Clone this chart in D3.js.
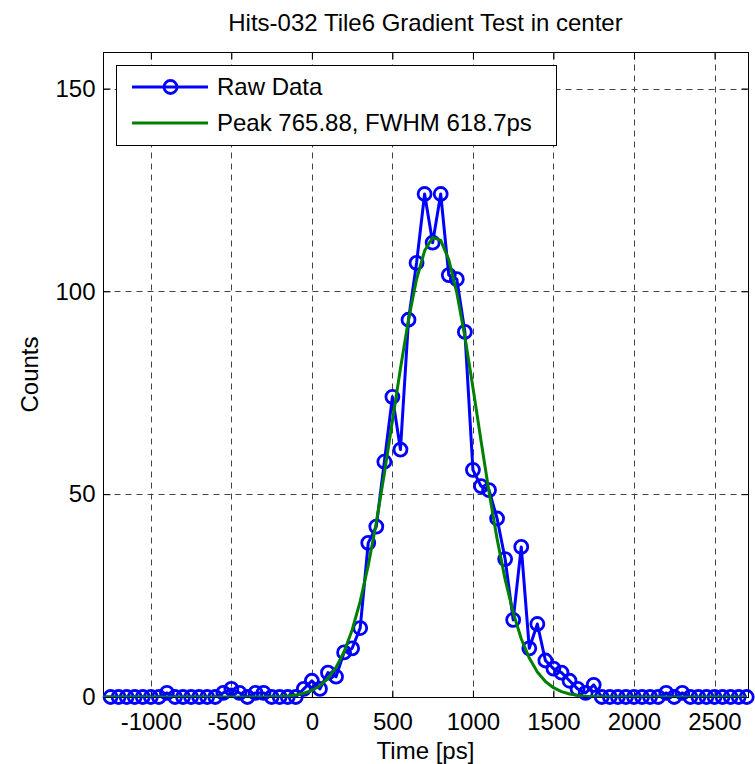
<!DOCTYPE html>
<html>
<head>
<meta charset="utf-8">
<script src="https://cdn.jsdelivr.net/npm/d3@7"></script>
<style>
  html, body { margin: 0; padding: 0; background: #fff; }
  svg { display: block; font-family: "Liberation Sans", Arial, sans-serif; }
</style>
</head>
<body>
<svg id="chart" width="755" height="764"></svg>
<script>
// ---- data ----
const titleText = "Hits-032 Tile6 Gradient Test in center";
const xLabel = "Time [ps]";
const yLabel = "Counts";
const seriesNames = ["Raw Data", "Peak 765.88, FWHM 618.7ps"];

const timePs = [
  -1300, -1250, -1200, -1150, -1100, -1050, -1000, -950, -900, -850,
  -800, -750, -700, -650, -600, -550, -500, -450, -400, -350,
  -300, -250, -200, -150, -100, -50, 0, 50, 100, 150,
  200, 250, 300, 350, 400, 450, 500, 550, 600, 650,
  700, 750, 800, 850, 900, 950, 1000, 1050, 1100, 1150,
  1200, 1250, 1300, 1350, 1400, 1450, 1500, 1550, 1600, 1650,
  1700, 1750, 1800, 1850, 1900, 1950, 2000, 2050, 2100, 2150,
  2200, 2250, 2300, 2350, 2400, 2450, 2500, 2550, 2600, 2650,
  2700
];

const rawCounts = [
  0, 0, 0, 0, 0, 0, 0, 0, 1, 0,
  0, 0, 0, 0, 0, 1, 2, 1, 0, 1,
  1, 0, 0, 0, 0, 2, 4, 2, 6, 5,
  11, 12, 17, 38, 42, 58, 74, 61, 93, 107,
  124, 112, 124, 104, 103, 90, 56, 52, 51, 44,
  34, 19, 37, 12, 18, 9, 7, 6, 4, 2,
  1, 3, 0, 0, 0, 0, 0, 0, 0, 0,
  1, 0, 1, 0, 0, 0, 0, 0, 0, 0,
  0
];

const fitCounts = [
  0, 0, 0, 0, 0, 0, 0, 0, 0, 0,
  0, 0, 0, 0, 0, 0, 0, 0, 0, 0,
  0.03, 0.06, 0.13, 0.26, 0.50, 0.92, 1.62, 2.77, 4.57, 7.27,
  11.16, 16.51, 23.57, 32.43, 43.04, 55.10, 68.02, 80.99, 92.99, 102.98,
  109.99, 113.29, 112.55, 107.83, 99.63, 88.79, 76.31, 63.25, 50.56, 38.98,
  28.99, 20.79, 14.37, 9.59, 6.17, 3.83, 2.29, 1.32, 0.74, 0.40,
  0.20, 0.10, 0.05, 0.02, 0.01, 0, 0, 0, 0, 0,
  0, 0, 0, 0, 0, 0, 0, 0, 0, 0,
  0
];

const xTicks = [-1000, -500, 0, 500, 1000, 1500, 2000, 2500];
const yTicks = [0, 50, 100, 150];
const xDomain = [-1297, 2708];
const yDomain = [0, 159];

// ---- layout ----
const L = 103, R = 748, T = 52, B = 697;
const FS = 24;
const blue = "#0000ff", green = "#008000";

const svg = d3.select("#chart");
const x = d3.scaleLinear().domain(xDomain).range([L, R]);
const y = d3.scaleLinear().domain(yDomain).range([B, T]);

svg.append("defs").append("clipPath").attr("id", "plotclip")
  .append("rect").attr("x", L).attr("y", T).attr("width", R - L).attr("height", B - T);

// grid
const gridStyle = g => {
  g.select(".domain").remove();
  g.selectAll(".tick line").attr("stroke", "#444").attr("stroke-width", 1)
    .attr("stroke-dasharray", "6,5");
  g.selectAll("text").remove();
};
svg.append("g").attr("transform", `translate(0,${B + 0.5})`)
  .call(d3.axisBottom(x).tickValues(xTicks).tickSize(-(B - T)).tickFormat(""))
  .call(gridStyle)
  .selectAll(".tick").attr("transform", d => `translate(${Math.round(x(d)) + 0.5},0)`);
svg.append("g").attr("transform", `translate(${L + 0.5},0)`)
  .call(d3.axisLeft(y).tickValues(yTicks.filter(v => v > 0)).tickSize(-(R - L)).tickFormat(""))
  .call(gridStyle)
  .selectAll(".tick").attr("transform", d => `translate(0,${Math.round(y(d)) + 0.5})`);

// axes with labels
const axStyle = g => {
  g.select(".domain").remove();
  g.selectAll(".tick line").attr("stroke", "#000").attr("stroke-width", 1);
  g.selectAll("text").attr("font-size", FS).attr("fill", "#000")
    .attr("font-family", "Liberation Sans, Arial, sans-serif");
};
const fmt = d => String(d);
svg.append("g").attr("transform", `translate(0,${B + 0.5})`)
  .call(d3.axisBottom(x).tickValues(xTicks).tickSizeInner(-7).tickSizeOuter(0).tickPadding(15).tickFormat(fmt))
  .call(axStyle);
svg.append("g").attr("transform", `translate(0,${T + 0.5})`)
  .call(d3.axisTop(x).tickValues(xTicks).tickSizeInner(-7).tickSizeOuter(0).tickFormat(""))
  .call(axStyle);
svg.append("g").attr("transform", `translate(${L + 0.5},0)`)
  .call(d3.axisLeft(y).tickValues(yTicks).tickSizeInner(-7).tickSizeOuter(0).tickPadding(8).tickFormat(fmt))
  .call(axStyle);
svg.append("g").attr("transform", `translate(${R + 0.5},0)`)
  .call(d3.axisRight(y).tickValues(yTicks).tickSizeInner(-7).tickSizeOuter(0).tickFormat(""))
  .call(axStyle);

// frame
svg.append("rect").attr("x", L + 0.5).attr("y", T + 0.5)
  .attr("width", R - L).attr("height", B - T)
  .attr("fill", "none").attr("stroke", "#000").attr("stroke-width", 1);

// data
const rawPts = timePs.map((t, i) => [t, rawCounts[i]]);
const fitPts = timePs.map((t, i) => [t, fitCounts[i]]);
const line = d3.line().x(d => x(d[0])).y(d => y(d[1]));

const plot = svg.append("g").attr("clip-path", "url(#plotclip)");
plot.append("path").datum(rawPts).attr("d", line)
  .attr("fill", "none").attr("stroke", blue).attr("stroke-width", 3)
  .attr("stroke-linejoin", "round");

svg.append("g").selectAll("circle")
  .data(rawPts.filter(d => d[0] >= xDomain[0] && d[0] <= xDomain[1]))
  .join("circle")
  .attr("cx", d => x(d[0])).attr("cy", d => y(d[1])).attr("r", 6.5)
  .attr("fill", "none").attr("stroke", blue).attr("stroke-width", 2.8);

svg.append("g").attr("clip-path", "url(#plotclip)")
  .append("path").datum(fitPts).attr("d", line)
  .attr("fill", "none").attr("stroke", green).attr("stroke-width", 3)
  .attr("stroke-linejoin", "round");

// legend
const lg = svg.append("g");
lg.append("rect").attr("x", 116.5).attr("y", 65.5).attr("width", 440).attr("height", 80)
  .attr("fill", "#fff").attr("stroke", "#000").attr("stroke-width", 1);
lg.append("line").attr("x1", 132).attr("x2", 208).attr("y1", 87).attr("y2", 87)
  .attr("stroke", blue).attr("stroke-width", 3);
lg.append("circle").attr("cx", 170.5).attr("cy", 87).attr("r", 6.5)
  .attr("fill", "none").attr("stroke", blue).attr("stroke-width", 2.8);
lg.append("line").attr("x1", 132).attr("x2", 208).attr("y1", 123).attr("y2", 123)
  .attr("stroke", green).attr("stroke-width", 3);
lg.selectAll("text.lt").data(seriesNames).join("text").attr("class", "lt")
  .attr("x", 217).attr("y", (d, i) => 95 + i * 36)
  .attr("font-size", FS).text(d => d);

// titles
svg.append("text").attr("x", (L + R) / 2).attr("y", 31).attr("text-anchor", "middle")
  .attr("font-size", FS).text(titleText);
svg.append("text").attr("x", (L + R) / 2).attr("y", 759).attr("text-anchor", "middle")
  .attr("font-size", FS).text(xLabel);
svg.append("text").attr("transform", `translate(38,${(T + B) / 2}) rotate(-90)`)
  .attr("text-anchor", "middle").attr("font-size", FS).text(yLabel);
</script>
</body>
</html>
